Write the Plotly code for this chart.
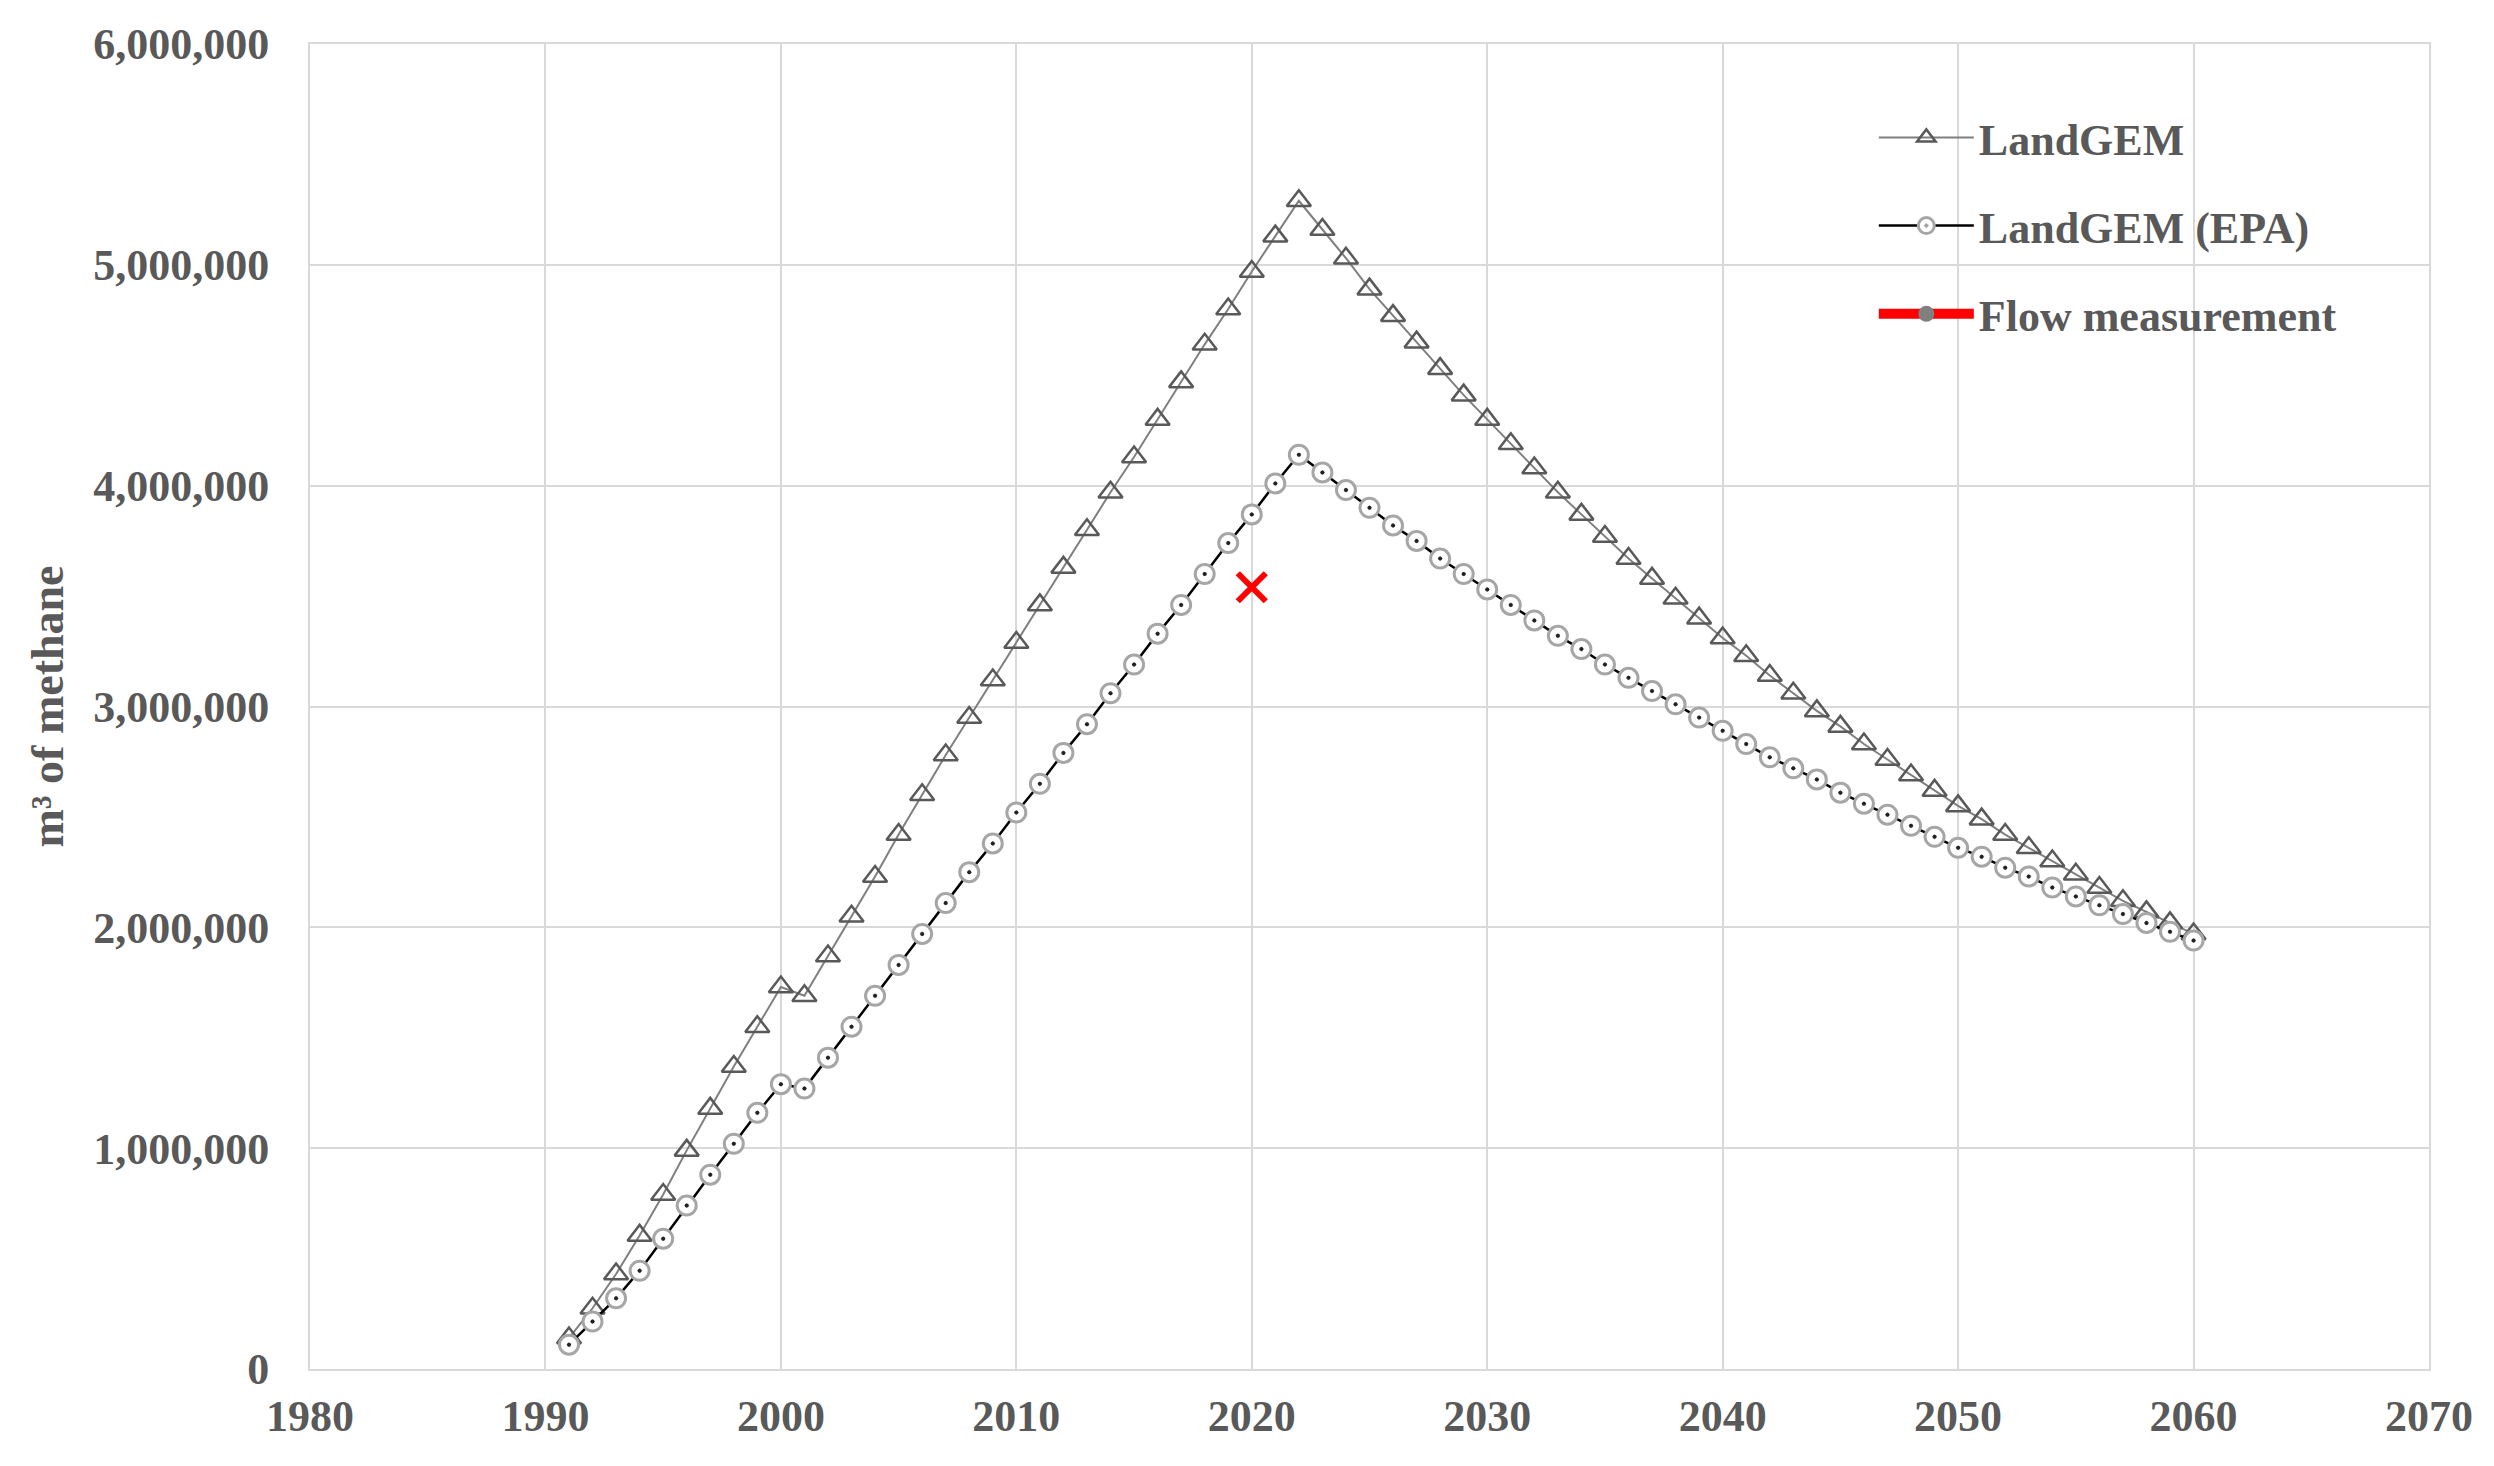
import plotly.graph_objects as go

years = list(range(1991, 2061))

landgem = [
    140000, 275000, 430000, 605000, 790000, 990000, 1180000, 1370000, 1550000, 1730000,
    1690000, 1870000, 2050000, 2230000, 2420000, 2600000, 2780000, 2950000, 3120000, 3290000,
    3460000, 3630000, 3800000, 3970000, 4130000, 4300000, 4470000, 4640000, 4800000, 4970000,
    5130000, 5290000, 5160000, 5030000, 4890000, 4770000, 4650000, 4530000, 4410000, 4300000,
    4190000, 4080000, 3970000, 3870000, 3770000, 3670000, 3580000, 3490000, 3400000, 3310000,
    3230000, 3140000, 3060000, 2980000, 2910000, 2830000, 2760000, 2690000, 2620000, 2550000,
    2490000, 2420000, 2360000, 2300000, 2240000, 2180000, 2120000, 2070000, 2020000, 1970000,
]

landgem_epa = [
    110000, 215000, 320000, 445000, 590000, 740000, 880000, 1020000, 1160000, 1290000,
    1270000, 1410000, 1550000, 1690000, 1830000, 1970000, 2110000, 2250000, 2380000, 2520000,
    2650000, 2790000, 2920000, 3060000, 3190000, 3330000, 3460000, 3600000, 3740000, 3870000,
    4010000, 4140000, 4060000, 3980000, 3900000, 3820000, 3750000, 3670000, 3600000, 3530000,
    3460000, 3390000, 3320000, 3260000, 3190000, 3130000, 3070000, 3010000, 2950000, 2890000,
    2830000, 2770000, 2720000, 2670000, 2610000, 2560000, 2510000, 2460000, 2410000, 2360000,
    2320000, 2270000, 2230000, 2180000, 2140000, 2100000, 2060000, 2020000, 1980000, 1940000,
]

flow_year = [2020]
flow_value = [3540000]

x_ticks = [1980, 1990, 2000, 2010, 2020, 2030, 2040, 2050, 2060, 2070]
y_ticks = [0, 1000000, 2000000, 3000000, 4000000, 5000000, 6000000]

font_family = "Liberation Serif"
text_grey = "#595959"
grid_grey = "#d9d9d9"

fig = go.Figure()

fig.add_trace(go.Scatter(
    x=years, y=landgem, name="LandGEM", mode="lines+markers",
    line=dict(color="#7f7f7f", width=2),
    marker=dict(symbol="triangle-up-open", size=21, color="#595959", line=dict(width=2.5)),
    legendgroup="a",
))

fig.add_trace(go.Scatter(
    x=years, y=landgem_epa, name="LandGEM (EPA)", mode="lines+markers",
    line=dict(color="#000000", width=2.5),
    marker=dict(symbol="circle-dot", size=19, color="white", line=dict(color="#a6a6a6", width=3)),
    legendgroup="b",
))

# dark centre dot of the EPA markers
fig.add_trace(go.Scatter(
    x=years, y=landgem_epa, mode="markers", showlegend=False, hoverinfo="skip",
    marker=dict(symbol="circle", size=4, color="#222222"),
))

# flow measurement: legend entry as in the original, point drawn as a red cross
fig.add_trace(go.Scatter(
    x=[None], y=[None], name="Flow measurement", mode="lines+markers",
    line=dict(color="#ff0000", width=12),
    marker=dict(symbol="circle", size=22, color="#808080"),
    legendgroup="c",
))
fig.add_trace(go.Scatter(
    x=flow_year, y=flow_value, mode="markers", showlegend=False,
    marker=dict(symbol="x-thin", size=28, color="#ff0000", line=dict(color="#ff0000", width=6)),
))

fig.update_layout(
    width=2494, height=1466,
    margin=dict(l=302, r=73, t=36, b=105),
    paper_bgcolor="white", plot_bgcolor="white",
    font=dict(family=font_family, size=44, color=text_grey, weight="bold"),
    legend=dict(
        x=0.738, y=0.956, xanchor="left", yanchor="top",
        font=dict(family=font_family, size=44, color=text_grey, weight="bold"),
        bgcolor="rgba(0,0,0,0)", tracegroupgap=28, itemwidth=95,
    ),
)

fig.update_xaxes(
    range=[1980, 2070], tickvals=x_ticks, ticktext=[str(v) for v in x_ticks],
    showgrid=True, gridcolor=grid_grey, gridwidth=2,
    showline=True, linecolor=grid_grey, linewidth=2, mirror=True,
    zeroline=False, ticks="", ticklabelstandoff=7,
)
fig.update_yaxes(
    range=[0, 6000000], tickvals=y_ticks, tickformat=",d",
    showgrid=True, gridcolor=grid_grey, gridwidth=2,
    showline=True, linecolor=grid_grey, linewidth=2, mirror=True,
    zeroline=False, ticks="", ticklabelstandoff=30,
    title=dict(text="m³ of methane", font=dict(family=font_family, size=46, color=text_grey, weight="bold"), standoff=15),
)

fig.write_html("out.html")
